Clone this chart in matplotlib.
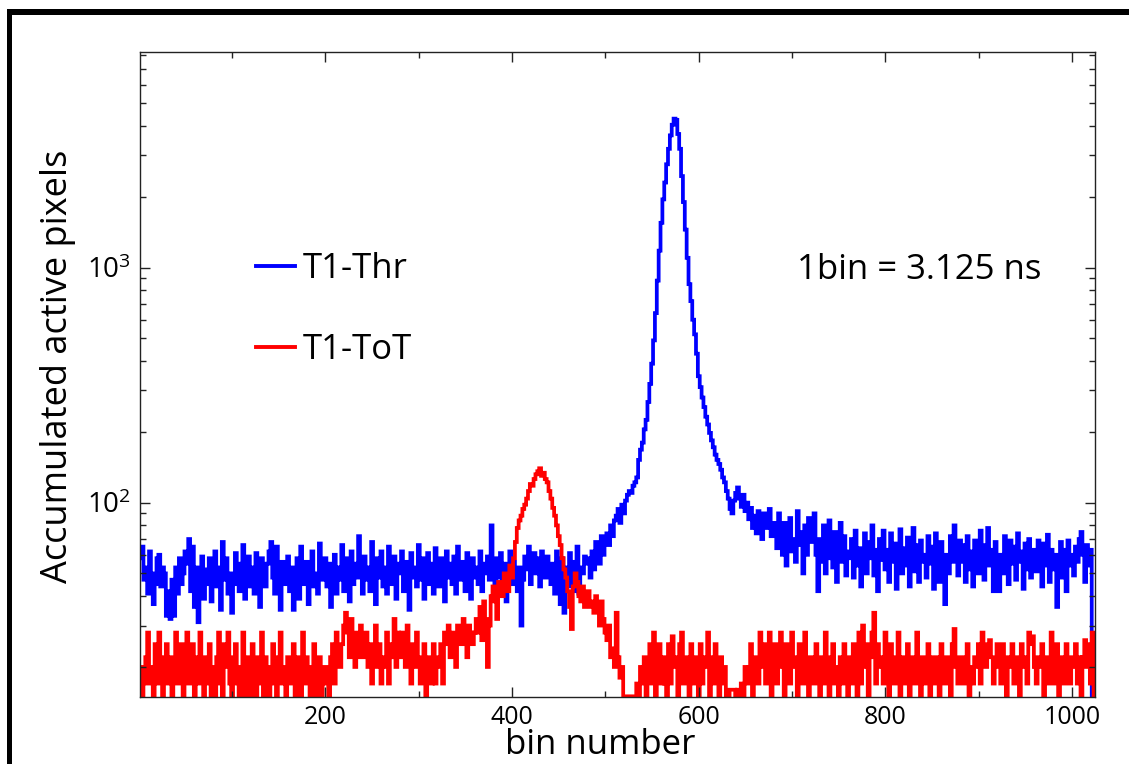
import numpy as np
import matplotlib
matplotlib.use("Agg")
import matplotlib.pyplot as plt
from matplotlib.patches import Rectangle
from matplotlib.ticker import LogLocator, MultipleLocator, LogFormatterSciNotation, NullFormatter

plt.rcParams['font.family'] = ['Open Sans', 'DejaVu Sans']
plt.rcParams['mathtext.fontset'] = 'custom'
plt.rcParams['mathtext.rm'] = 'Open Sans'
plt.rcParams['mathtext.default'] = 'regular'

# ---- data (each value covers 2 consecutive bins, bins 1..1024) ----
bin_width = 2
thr_counts = [
    58, 65, 47, 53, 41, 62, 50, 37, 45, 58, 60, 44, 53, 50, 33, 42, 32, 47, 33, 53,
    41, 58, 45, 50, 62, 55, 70, 42, 65, 36, 53, 31, 48, 59, 39, 52, 45, 58, 38, 50,
    62, 44, 53, 35, 68, 47, 58, 41, 50, 34, 45, 61, 52, 42, 55, 66, 39, 48, 59, 44,
    53, 41, 61, 47, 36, 58, 50, 44, 55, 62, 68, 48, 41, 65, 52, 35, 56, 45, 50, 59,
    42, 53, 35, 48, 58, 39, 65, 50, 45, 56, 37, 53, 62, 44, 50, 41, 67, 52, 47, 58,
    44, 55, 36, 50, 60, 41, 53, 47, 66, 42, 58, 50, 38, 62, 45, 55, 48, 72, 50, 41,
    59, 47, 53, 42, 68, 50, 37, 58, 48, 62, 44, 53, 41, 65, 52, 45, 59, 39, 55, 50,
    62, 42, 50, 56, 35, 61, 48, 53, 44, 66, 47, 58, 39, 50, 61, 45, 55, 41, 64, 50,
    44, 58, 52, 38, 62, 48, 55, 45, 59, 41, 65, 50, 47, 56, 42, 61, 52, 39, 58, 48,
    53, 45, 62, 42, 55, 50, 59, 47, 80, 52, 41, 58, 48, 61, 44, 55, 38, 50, 62, 45,
    56, 48, 42, 53, 30, 47, 59, 52, 65, 45, 55, 61, 50, 58, 44, 62, 53, 48, 59, 50,
    45, 55, 41, 62, 50, 37, 58, 34, 53, 48, 61, 44, 56, 42, 65, 41, 53, 50, 59, 55,
    58, 48, 62, 52, 68, 58, 55, 72, 60, 70, 74, 66, 80, 72, 84, 88, 94, 82, 98, 90,
    102, 108, 112, 110, 118, 122, 128, 152, 168, 180, 205, 225, 268, 320, 390, 490, 640, 880, 1180, 1550,
    1950, 2300, 2750, 3200, 3650, 4050, 4300, 4250, 3700, 3200, 2450, 1900, 1450, 1100, 850, 720, 600, 520, 430, 345,
    310, 280, 255, 232, 215, 198, 184, 172, 160, 152, 146, 138, 128, 122, 112, 104, 94, 90, 102, 110,
    116, 104, 96, 108, 92, 100, 85, 95, 78, 88, 74, 92, 83, 70, 90, 86, 78, 94, 72, 82,
    80, 64, 90, 72, 60, 82, 54, 76, 86, 62, 70, 56, 92, 66, 75, 50, 80, 60, 86, 68,
    74, 90, 60, 42, 70, 56, 80, 50, 68, 84, 58, 53, 75, 46, 66, 82, 56, 72, 49, 62,
    58, 70, 48, 76, 54, 64, 44, 62, 74, 50, 68, 58, 80, 49, 63, 42, 70, 57, 76, 52,
    63, 46, 74, 56, 67, 43, 60, 77, 50, 64, 54, 71, 44, 61, 78, 51, 66, 46, 69, 56,
    60, 48, 72, 55, 65, 43, 74, 57, 46, 68, 52, 37, 60, 50, 72, 56, 80, 63, 49, 69,
    56, 66, 46, 72, 52, 62, 44, 69, 58, 50, 76, 60, 47, 66, 78, 54, 63, 42, 68, 56,
    42, 60, 50, 72, 56, 45, 69, 55, 65, 47, 74, 56, 62, 43, 67, 52, 70, 48, 60, 63,
    51, 69, 56, 44, 67, 54, 73, 46, 63, 52, 60, 36, 56, 68, 48, 63, 42, 69, 54, 60,
    49, 65, 56, 70, 75, 60, 46, 66, 54, 63, 1, 1,
]
tot_counts = [
    20, 15, 17, 22, 28, 17, 20, 15, 25, 17, 28, 22, 15, 20, 25, 17, 22, 15, 20, 28,
    17, 20, 25, 15, 22, 28, 17, 20, 25, 15, 22, 17, 28, 20, 15, 22, 17, 25, 15, 20,
    15, 22, 28, 17, 15, 25, 20, 28, 17, 15, 22, 25, 17, 15, 20, 28, 15, 22, 17, 15,
    25, 17, 15, 22, 17, 28, 15, 22, 20, 15, 17, 25, 20, 15, 22, 28, 17, 20, 15, 22,
    17, 20, 25, 15, 22, 17, 15, 28, 17, 22, 20, 15, 17, 25, 15, 20, 22, 15, 17, 20,
    20, 15, 22, 25, 17, 28, 22, 20, 25, 30, 34, 28, 22, 32, 25, 20, 28, 22, 30, 25,
    22, 28, 20, 25, 17, 22, 30, 20, 25, 17, 22, 20, 28, 17, 25, 22, 32, 20, 28, 22,
    28, 25, 20, 30, 22, 17, 25, 20, 28, 22, 17, 20, 25, 15, 22, 20, 17, 25, 17, 20,
    22, 25, 17, 28, 25, 30, 22, 28, 25, 20, 30, 28, 25, 32, 28, 22, 30, 28, 25, 28,
    32, 28, 36, 26, 38, 32, 20, 30, 40, 44, 38, 32, 46, 42, 40, 50, 46, 42, 54, 48,
    58, 68, 78, 84, 88, 94, 98, 104, 112, 120, 118, 126, 132, 136, 140, 130, 134, 126, 122, 112,
    104, 95, 88, 80, 72, 66, 58, 52, 48, 42, 36, 29, 44, 50, 46, 40, 38, 44, 36, 40,
    42, 36, 38, 34, 40, 36, 30, 38, 32, 28, 26, 30, 22, 24, 20, 34, 22, 18, 20, 15,
    15, 15, 15, 15, 15, 15, 17, 15, 20, 17, 22, 15, 20, 25, 17, 28, 15, 20, 25, 17,
    22, 17, 15, 25, 17, 27, 20, 22, 15, 25, 28, 17, 20, 22, 15, 25, 17, 22, 20, 15,
    25, 17, 22, 20, 28, 15, 22, 17, 25, 20, 15, 22, 17, 20, 15, 15, 16, 16, 16, 15,
    16, 15, 17, 15, 20, 17, 20, 25, 15, 22, 20, 17, 28, 20, 25, 17, 22, 28, 15, 20,
    25, 17, 22, 28, 20, 15, 25, 22, 17, 28, 20, 22, 15, 25, 20, 17, 28, 22, 15, 20,
    22, 17, 25, 20, 15, 22, 17, 28, 20, 15, 22, 25, 17, 20, 15, 22, 17, 25, 20, 15,
    22, 17, 25, 20, 15, 28, 17, 30, 20, 25, 15, 22, 28, 34, 17, 25, 20, 22, 17, 28,
    20, 15, 25, 22, 17, 20, 28, 15, 22, 20, 17, 25, 15, 20, 22, 17, 28, 20, 15, 22,
    17, 20, 25, 15, 22, 17, 20, 22, 15, 25, 20, 17, 22, 20, 15, 25, 29, 20, 17, 22,
    20, 17, 22, 25, 15, 20, 17, 22, 20, 25, 17, 28, 22, 20, 25, 26, 22, 17, 20, 25,
    22, 17, 25, 20, 15, 22, 20, 25, 17, 20, 22, 15, 25, 20, 22, 17, 28, 25, 27, 20,
    17, 22, 20, 25, 15, 22, 17, 20, 28, 17, 22, 25, 15, 20, 22, 17, 25, 20, 17, 22,
    20, 25, 17, 22, 15, 22, 26, 20, 25, 17, 28, 15,
]
series_labels = ["T1-Thr", "T1-ToT"]
x_ticks = [200, 400, 600, 800, 1000]
annotation = "1bin = 3.125 ns"
x_label = "bin number"
y_label = "Accumulated active pixels"

# ---- figure ----
W, H = 1129, 764
fig = plt.figure(figsize=(W / 100, H / 100), dpi=100)
ax = fig.add_axes([139.7 / W, 1 - 697 / H, (1095 - 139.7) / W, (697 - 52) / H])

edges_thr = 1 + bin_width * np.arange(len(thr_counts) + 1)
edges_tot = 1 + bin_width * np.arange(len(tot_counts) + 1)
lw = 2.7
ax.stairs(np.array(thr_counts, float), edges_thr, baseline=None, color=(0, 0, 1), lw=lw, label=series_labels[0])
ax.stairs(np.array(tot_counts, float), edges_tot, baseline=None, color=(1, 0, 0), lw=lw, label=series_labels[1])

ax.set_yscale('log')
ax.set_xlim(1, 1024.5)
ax.set_ylim(14.9, 8260)

ax.set_xticks(x_ticks)
ax.xaxis.set_minor_locator(MultipleLocator(100))
ax.yaxis.set_major_locator(LogLocator(base=10))
ax.yaxis.set_minor_locator(LogLocator(base=10, subs=np.arange(2, 10)))
ax.yaxis.set_major_formatter(LogFormatterSciNotation())
ax.yaxis.set_minor_formatter(NullFormatter())
ax.tick_params(which='both', direction='in', top=True, right=True, color='#222222', width=1.0)
ax.tick_params(which='major', length=7, pad=6)
ax.tick_params(which='minor', length=4)
ax.tick_params(axis='x', labelsize=18)
ax.tick_params(axis='y', labelsize=20)
for s in ax.spines.values():
    s.set_color('#222222')
    s.set_linewidth(1.0)

fig.text(600 / W, 1 - 745 / H, x_label, ha='center', va='center', fontsize=25)
fig.text(58 / W, 1 - 366 / H, y_label, ha='center', va='center', rotation=90, fontsize=26)

leg = ax.legend(loc='upper left', bbox_to_anchor=((256 - 139.7) / (1095 - 139.7), (697 - 252) / (697 - 52)),
                frameon=False, fontsize=25, handlelength=1.12, handletextpad=0.22, labelspacing=1.36,
                borderaxespad=0, borderpad=0)
for h in leg.get_lines():
    h.set_linewidth(2.8)

fig.text(797 / W, 1 - 270 / H, annotation, ha='left', va='center', fontsize=25)

# outer black frame (top and left edges)
fig.add_artist(Rectangle((7 / W, 1 - 15 / H), 1 - 7 / W, 6 / H, transform=fig.transFigure,
                         facecolor='black', edgecolor='none'))
fig.add_artist(Rectangle((7 / W, 0), 5 / W, 1 - 9 / H, transform=fig.transFigure,
                         facecolor='black', edgecolor='none'))

fig.savefig('out.png', dpi=100)
